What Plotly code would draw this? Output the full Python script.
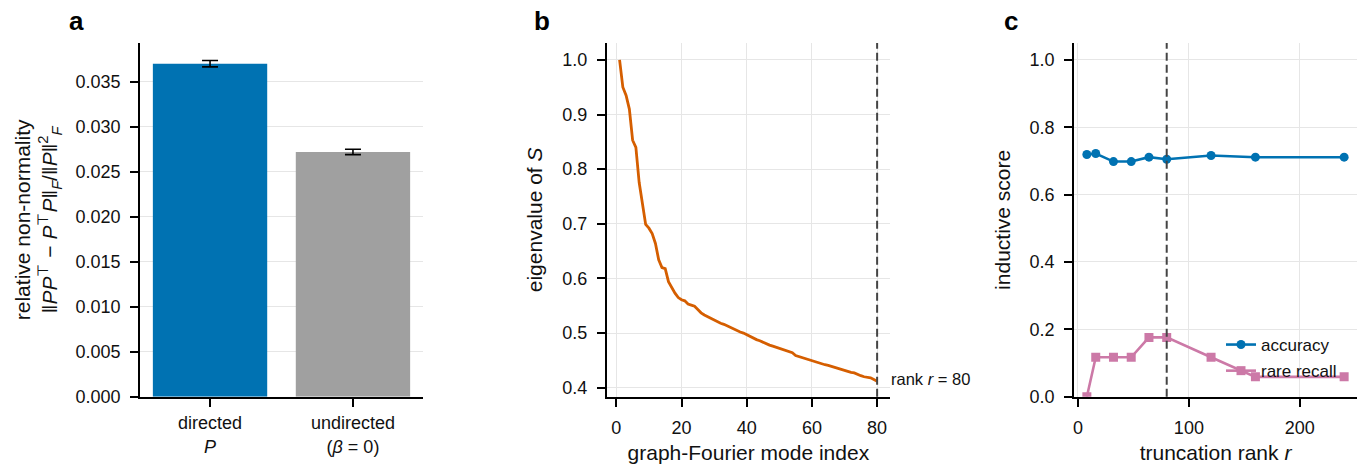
import plotly.graph_objects as go

# ---------------- data ----------------
bar_labels = ["directed<br><i>P</i>", "undirected<br>(<i>β</i> = 0)"]
bar_values = [0.0370, 0.0272]
bar_errors = [0.00035, 0.0003]

mode_index = list(range(1, 81))
eigenvalues = [
    1.000, 0.950, 0.935, 0.910, 0.853, 0.840, 0.776, 0.737, 0.699, 0.692,
    0.682, 0.664, 0.634, 0.620, 0.618, 0.594, 0.583, 0.573, 0.565, 0.561,
    0.559, 0.553, 0.551, 0.549, 0.543, 0.537, 0.533, 0.530, 0.527, 0.523,
    0.521, 0.518, 0.516, 0.513, 0.510, 0.507, 0.504, 0.502, 0.500, 0.497,
    0.493, 0.490, 0.488, 0.486, 0.483, 0.480, 0.478, 0.476, 0.474, 0.471,
    0.469, 0.467, 0.465, 0.464, 0.459, 0.457, 0.455, 0.453, 0.451, 0.450,
    0.448, 0.446, 0.444, 0.442, 0.441, 0.439, 0.437, 0.435, 0.433, 0.431,
    0.430, 0.428, 0.427, 0.424, 0.422, 0.420, 0.419, 0.418, 0.415, 0.412,
]
rank_cut = 80

trunc_rank = [8, 16, 32, 48, 64, 80, 120, 160, 240]
accuracy = [0.719, 0.722, 0.698, 0.698, 0.711, 0.705, 0.716, 0.711, 0.711]
rare_recall = [0.0, 0.117, 0.117, 0.117, 0.176, 0.176, 0.117, 0.059, 0.059]

# ---------------- style ----------------
FONT = "Liberation Sans, Arial, Helvetica, sans-serif"
BLUE = "#0072B2"
GRAY = "#A0A0A0"
ORANGE = "#D55E00"
PINK = "#CC79A7"
GRID = "#E6E6E6"
TXT = "#111111"
W, H = 1367, 464

fig = go.Figure()

fig.add_trace(go.Bar(
    x=[0, 1], y=bar_values, width=0.8,
    marker=dict(color=[BLUE, GRAY], line=dict(width=0)),
    error_y=dict(type="data", array=bar_errors, color="black", thickness=1.6, width=8),
    xaxis="x", yaxis="y", showlegend=False,
))

fig.add_trace(go.Scatter(
    x=mode_index, y=eigenvalues, mode="lines",
    line=dict(color=ORANGE, width=2.8),
    xaxis="x2", yaxis="y2", showlegend=False,
))

fig.add_trace(go.Scatter(
    x=trunc_rank, y=accuracy, mode="lines+markers", name="accuracy",
    line=dict(color=BLUE, width=2.6), marker=dict(symbol="circle", size=9, color=BLUE),
    xaxis="x3", yaxis="y3", legendgroup="a",
))
fig.add_trace(go.Scatter(
    x=trunc_rank, y=rare_recall, mode="lines+markers", name="rare recall",
    line=dict(color=PINK, width=2.6), marker=dict(symbol="square", size=9, color=PINK),
    xaxis="x3", yaxis="y3", legendgroup="b",
))

def px_x(v):
    return v / W

def px_y(v):
    return 1 - v / H

ydom = [px_y(396.7), px_y(43)]

common_axis = dict(
    showline=True, linecolor="black", linewidth=1.6,
    ticks="outside", ticklen=8, tickwidth=1.6, tickcolor="black",
    tickfont=dict(family=FONT, size=18, color=TXT),
    zeroline=False, gridcolor=GRID, gridwidth=1,
    ticklabelstandoff=6, automargin=False,
)

fig.update_layout(
    width=W, height=H,
    margin=dict(l=0, r=0, t=0, b=0, autoexpand=False),
    paper_bgcolor="white", plot_bgcolor="white",
    font=dict(family=FONT, size=18, color=TXT),
    bargap=0.2,
    xaxis=dict(common_axis, domain=[px_x(140), px_x(423)], range=[-0.49, 1.49],
               tickvals=[0, 1], ticktext=bar_labels, showgrid=False, anchor="y",
               ticklabelstandoff=1),
    yaxis=dict(common_axis, domain=ydom, range=[0, 0.0393], tickvals=[i * 0.005 for i in range(8)],
               tickformat=".3f", showgrid=True, anchor="x",
               title=dict(text="relative non-normality<br>‖<i>PP</i><sup>⊤</sup> − <i>P</i><sup>⊤</sup><i>P</i>‖<sub><i>F</i></sub>/‖<i>P</i>‖<sup>2</sup><sub><i>F</i></sub>",
                          font=dict(family=FONT, size=21, color=TXT), standoff=12)),
    xaxis2=dict(common_axis, domain=[px_x(606.7), px_x(890)], range=[-2.95, 83.95],
                tickvals=[0, 20, 40, 60, 80], showgrid=True, anchor="y2",
                title=dict(text="graph-Fourier mode index", font=dict(family=FONT, size=21, color=TXT), standoff=8)),
    yaxis2=dict(common_axis, domain=ydom, range=[0.3835, 1.031], tickvals=[0.4, 0.5, 0.6, 0.7, 0.8, 0.9, 1.0],
                tickformat=".1f", showgrid=True, anchor="x2",
                title=dict(text="eigenvalue of <i>S</i>", font=dict(family=FONT, size=21, color=TXT), standoff=14)),
    xaxis3=dict(common_axis, domain=[px_x(1074), px_x(1357)], range=[-3.6, 251.6],
                tickvals=[0, 100, 200], showgrid=True, anchor="y3",
                title=dict(text="truncation rank <i>r</i>", font=dict(family=FONT, size=21, color=TXT), standoff=8)),
    yaxis3=dict(common_axis, domain=ydom, range=[0, 1.05], tickvals=[0, 0.2, 0.4, 0.6, 0.8, 1.0],
                tickformat=".1f", showgrid=True, anchor="x3",
                title=dict(text="inductive score", font=dict(family=FONT, size=21, color=TXT), standoff=13)),
    legend=dict(x=px_x(1221), y=px_y(327), xanchor="left", yanchor="top",
                bgcolor="rgba(0,0,0,0)", borderwidth=0, tracegroupgap=1,
                font=dict(family=FONT, size=17, color=TXT)),
)

# dashed rank cut lines
for xr, yr in (("x2", "y2 domain"), ("x3", "y3 domain")):
    fig.add_shape(type="line", xref=xr, yref=yr, x0=rank_cut, x1=rank_cut, y0=0, y1=1,
                  line=dict(color="#444444", width=2, dash="8px,4px"), layer="above")

fig.add_annotation(x=rank_cut, y=0.415, xref="x2", yref="y2", xanchor="left", yanchor="middle",
                   xshift=12, text="rank <i>r</i> = 80", showarrow=False,
                   font=dict(family=FONT, size=16.5, color=TXT))

for letter, xc in (("a", 76), ("b", 542), ("c", 1011)):
    fig.add_annotation(x=px_x(xc), y=px_y(21), xref="paper", yref="paper", xanchor="center", yanchor="middle",
                       text=f"<b>{letter}</b>", showarrow=False, font=dict(family=FONT, size=26, color="black"))

fig.write_html("out.html", config={"displayModeBar": False},
               post_script="document.body.style.margin='0';document.body.style.overflow='hidden';")
